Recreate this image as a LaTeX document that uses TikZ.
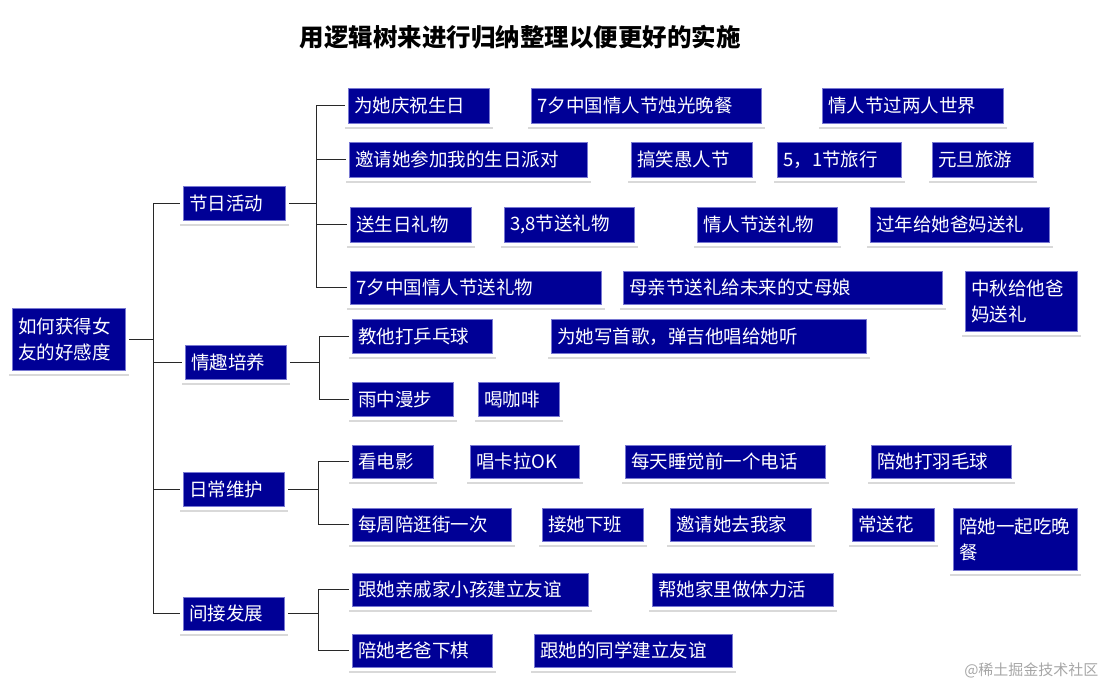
\documentclass[tikz,border=0pt]{standalone}
\usepackage{fontspec}
\newfontfamily\cjk{Noto Sans CJK SC}
\usetikzlibrary{backgrounds}

\definecolor{boxblue}{RGB}{0,0,150}
\definecolor{boxedge}{RGB}{120,120,210}
\definecolor{linkgray}{RGB}{40,40,40}

\tikzset{
  box/.style={rectangle, fill=boxblue, draw=boxedge, line width=0.6pt,
    text=white, font=\cjk\fontsize{18.5}{26}\selectfont, align=left,
    inner xsep=6pt, inner ysep=0pt, anchor=north west,
    preaction={draw=black!15, fill=black!15, line width=7pt,
      transform canvas={xshift=0.5pt, yshift=-2.5pt}},
    preaction={draw=white, line width=7pt}},
  leaf/.style 2 args={box, text width=#1, minimum height=#2},
  link/.style={draw=linkgray, line width=1.1pt},
}

\begin{document}
\begin{tikzpicture}[x=1pt, y=-1pt]

    % Frame
    \useasboundingbox (0,0) rectangle (1107,688);

    % Title
    \node[font=\cjk\bfseries\fontsize{24.5}{28}\selectfont] (title) at (520,37)
        {用逻辑树来进行归纳整理以便更好的实施};

    % Root
    \node[leaf={101pt}{62pt}] (root) at (12,308) {如何获得女\\友的好感度};

    % Level 1
    \node[leaf={90pt}{34pt}] (jr) at (183,186) {节日活动};
    \node[leaf={89pt}{34pt}] (qq) at (185,345) {情趣培养};
    \node[leaf={89pt}{34pt}] (rc) at (183,472) {日常维护};
    \node[leaf={89pt}{33pt}] (jj) at (183,597) {间接发展};

    % Holidays
    \node[leaf={129pt}{35pt}] (a1) at (348,88)  {为她庆祝生日};
    \node[leaf={218pt}{35pt}] (a2) at (531,88)  {7夕中国情人节烛光晚餐};
    \node[leaf={169pt}{35pt}] (a3) at (822,88)  {情人节过两人世界};
    \node[leaf={226pt}{35pt}] (b1) at (349,142) {邀请她参加我的生日派对};
    \node[leaf={109pt}{35pt}] (b2) at (631,142) {搞笑愚人节};
    \node[leaf={112pt}{35pt}] (b3) at (777,142) {5，1节旅行};
    \node[leaf={89pt}{35pt}]  (b4) at (932,142) {元旦旅游};
    \node[leaf={109pt}{35pt}] (c1) at (350,207) {送生日礼物};
    \node[leaf={118pt}{35pt}] (c2) at (504,207) {3,8节送礼物};
    \node[leaf={128pt}{35pt}] (c3) at (697,207) {情人节送礼物};
    \node[leaf={167pt}{35pt}] (c4) at (870,207) {过年给她爸妈送礼};
    \node[leaf={239pt}{33pt}] (d1) at (350,271) {7夕中国情人节送礼物};
    \node[leaf={307pt}{33pt}] (d2) at (623,271) {母亲节送礼给未来的丈母娘};
    \node[leaf={100pt}{60pt}] (d3) at (965,271) {中秋给他爸\\妈送礼};

    % Interests
    \node[leaf={128pt}{34pt}] (e1) at (352,319) {教他打乒乓球};
    \node[leaf={303pt}{34pt}] (e2) at (551,319) {为她写首歌，弹吉他唱给她听};
    \node[leaf={89pt}{34pt}]  (f1) at (352,382) {雨中漫步};
    \node[leaf={69pt}{34pt}]  (f2) at (478,382) {喝咖啡};

    % Daily care
    \node[leaf={69pt}{33pt}]  (g1) at (352,445) {看电影};
    \node[leaf={97pt}{33pt}]  (g2) at (470,445) {唱卡拉OK};
    \node[leaf={188pt}{33pt}] (g3) at (625,445) {每天睡觉前一个电话};
    \node[leaf={128pt}{33pt}] (g4) at (871,445) {陪她打羽毛球};
    \node[leaf={147pt}{33pt}] (h1) at (352,508) {每周陪逛街一次};
    \node[leaf={89pt}{33pt}]  (h2) at (542,508) {接她下班};
    \node[leaf={129pt}{33pt}] (h3) at (670,508) {邀请她去我家};
    \node[leaf={70pt}{33pt}]  (h4) at (852,508) {常送花};
    \node[leaf={112pt}{62pt}] (h5) at (953,508) {陪她一起吃晚\\餐};

    % Indirect
    \node[leaf={224pt}{33pt}] (i1) at (352,573) {跟她亲戚家小孩建立友谊};
    \node[leaf={169pt}{33pt}] (i2) at (652,573) {帮她家里做体力活};
    \node[leaf={128pt}{33pt}] (j1) at (352,634) {陪她老爸下棋};
    \node[leaf={186pt}{33pt}] (j2) at (534,634) {跟她的同学建立友谊};

    % Watermark
    \node[anchor=east, text=black!35, font=\cjk\fontsize{15}{17}\selectfont]
        (mark) at (1102,670) {@稀土掘金技术社区};

    % Tree lines
    \begin{scope}[on background layer]
        \foreach \c in {jr,qq,rc,jj}
            \draw[link] (root.east) -- ++(28,0) |- (\c.west);
        \foreach \c in {a1,b1,c1,d1}
            \draw[link] (jr.east) -- ++(31,0) |- (\c.west);
        \foreach \c in {e1,f1}
            \draw[link] (qq.east) -- ++(33,0) |- (\c.west);
        \foreach \c in {g1,h1}
            \draw[link] (rc.east) -- ++(34,0) |- (\c.west);
        \foreach \c in {i1,j1}
            \draw[link] (jj.east) -- ++(34,0) |- (\c.west);
    \end{scope}

\end{tikzpicture}
\end{document}
